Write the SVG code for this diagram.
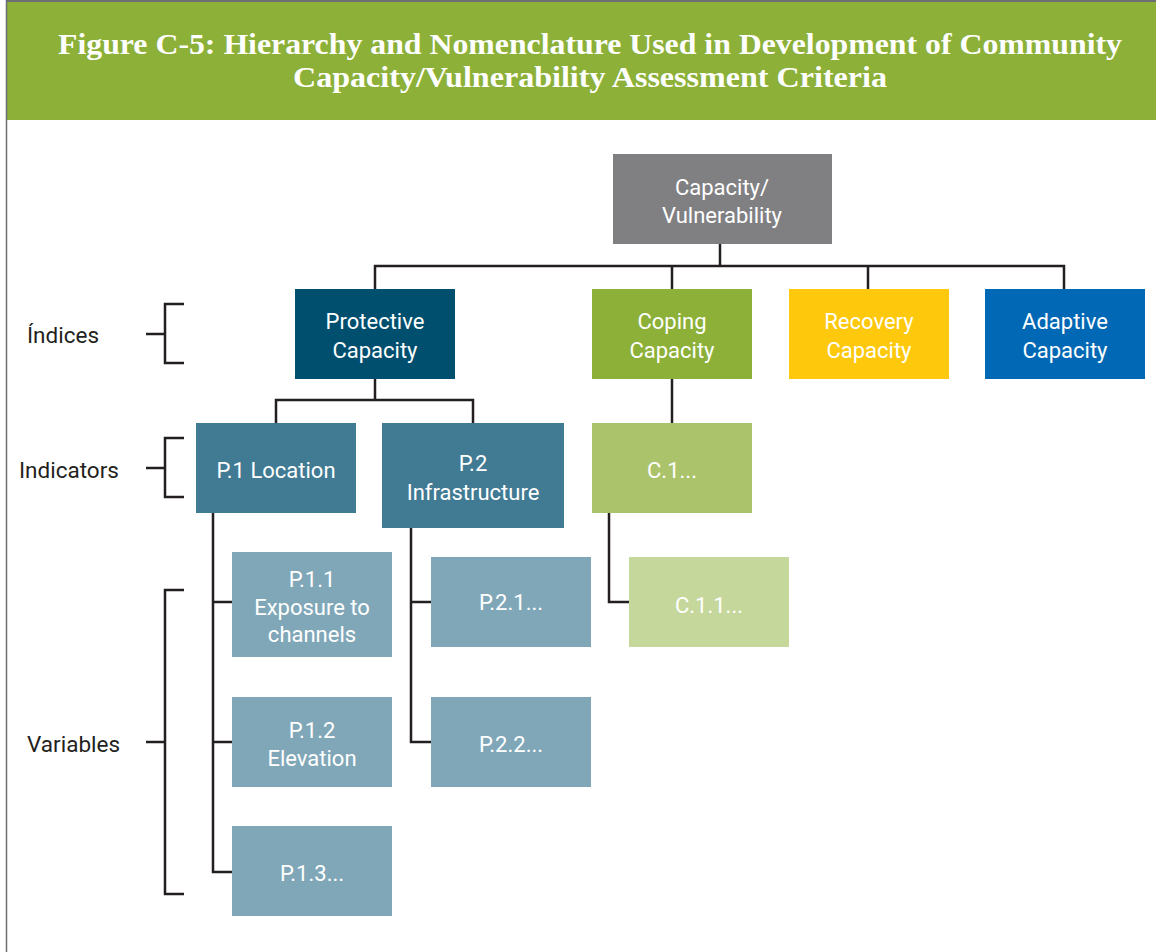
<svg xmlns="http://www.w3.org/2000/svg" width="1156" height="952" viewBox="0 0 1156 952">
<style>
.t{font-family:Roboto,"Noto Sans","Liberation Sans",sans-serif;font-size:22px;fill:#ffffff;text-anchor:middle}
.lab{font-family:Roboto,"Noto Sans","Liberation Sans",sans-serif;font-size:22.5px;fill:#231f20}
.ln{fill:none;stroke:#231f20;stroke-width:2.5}
.title{font-family:"Liberation Serif","DejaVu Serif",serif;font-weight:bold;font-size:29px;fill:#ffffff;text-anchor:middle}
</style>
<rect x="0" y="0" width="1156" height="952" fill="#ffffff"/>
<rect x="7" y="2" width="1149" height="118" fill="#8cb038"/>
<line x1="6" y1="1" x2="1156" y2="1" stroke="#6d6e71" stroke-width="2"/>
<line x1="6.5" y1="0" x2="6.5" y2="952" stroke="#6d6e71" stroke-width="1.5"/>
<g id="title">
<text class="title" x="590" y="54" textLength="1064" lengthAdjust="spacingAndGlyphs">Figure C-5: Hierarchy and Nomenclature Used in Development of Community</text>
<text class="title" x="590" y="87" textLength="594" lengthAdjust="spacingAndGlyphs">Capacity/Vulnerability Assessment Criteria</text>
</g>
<g id="connectors">
<path class="ln" d="M720 244V266M375 289V266H1064V289M672 266V289M868 266V289"/>
<path class="ln" d="M375 379V400M276 423V400H473V423"/>
<path class="ln" d="M672 379V423"/>
<path class="ln" d="M213 513V872H235M213 602H232M213 742H232"/>
<path class="ln" d="M411 528V742H431M411 602H431"/>
<path class="ln" d="M609 513V602H629"/>
<path class="ln" d="M146 334H165M184 304H165V363H184"/>
<path class="ln" d="M146 468H165M184 438H165V497H184"/>
<path class="ln" d="M146 742H165M184 590H165V894H184"/>
</g>
<g id="labels">
<text class="lab" x="27" y="343">Índices</text>
<text class="lab" x="19" y="478">Indicators</text>
<text class="lab" x="27" y="752">Variables</text>
</g>
<g id="root"><rect x="613" y="154" width="219" height="90" fill="#808083"/><text class="t" x="722" y="195">Capacity/</text><text class="t" x="722" y="223">Vulnerability</text></g>
<g id="protective"><rect x="295" y="289" width="160" height="90" fill="#004f6e"/><text class="t" x="375" y="329">Protective</text><text class="t" x="375" y="358">Capacity</text></g>
<g id="coping"><rect x="592" y="289" width="160" height="90" fill="#8cb038"/><text class="t" x="672" y="329">Coping</text><text class="t" x="672" y="358">Capacity</text></g>
<g id="recovery"><rect x="789" y="289" width="160" height="90" fill="#fec80d"/><text class="t" x="869" y="329">Recovery</text><text class="t" x="869" y="358">Capacity</text></g>
<g id="adaptive"><rect x="985" y="289" width="160" height="90" fill="#0068b4"/><text class="t" x="1065" y="329">Adaptive</text><text class="t" x="1065" y="358">Capacity</text></g>
<g id="p1"><rect x="196" y="423" width="160" height="90" fill="#417a93"/><text class="t" x="276" y="478">P.1 Location</text></g>
<g id="p2"><rect x="382" y="423" width="182" height="105" fill="#417a93"/><text class="t" x="473" y="471">P.2</text><text class="t" x="473" y="500">Infrastructure</text></g>
<g id="c1"><rect x="592" y="423" width="160" height="90" fill="#abc46b"/><text class="t" x="672" y="478">C.1...</text></g>
<g id="p11"><rect x="232" y="552" width="160" height="105" fill="#80a7b8"/><text class="t" x="312" y="587">P.1.1</text><text class="t" x="312" y="615">Exposure to</text><text class="t" x="312" y="642">channels</text></g>
<g id="p21"><rect x="431" y="557" width="160" height="90" fill="#80a7b8"/><text class="t" x="511" y="610">P.2.1...</text></g>
<g id="c11"><rect x="629" y="557" width="160" height="90" fill="#c6d79c"/><text class="t" x="709" y="613">C.1.1...</text></g>
<g id="p12"><rect x="232" y="697" width="160" height="90" fill="#80a7b8"/><text class="t" x="312" y="738">P.1.2</text><text class="t" x="312" y="766">Elevation</text></g>
<g id="p22"><rect x="431" y="697" width="160" height="90" fill="#80a7b8"/><text class="t" x="511" y="752">P.2.2...</text></g>
<g id="p13"><rect x="232" y="826" width="160" height="90" fill="#80a7b8"/><text class="t" x="312" y="881">P.1.3...</text></g>
</svg>
